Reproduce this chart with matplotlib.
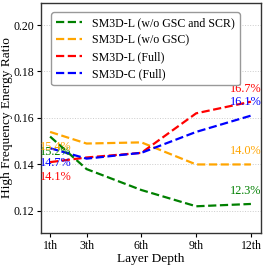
import matplotlib
matplotlib.use('Agg')
import matplotlib.pyplot as plt

# ------------------------------------------------------------
# Data
# ------------------------------------------------------------
layers = [1, 3, 6, 9, 12]
tick_labels = ['1th', '3th', '6th', '9th', '12th']

names = ['SM3D-L (w/o GSC and SCR)', 'SM3D-L (w/o GSC)', 'SM3D-L (Full)', 'SM3D-C (Full)']
colors = ['green', 'orange', 'red', 'blue']

green_vals = [0.152, 0.138, 0.129, 0.122, 0.123]
orange_vals = [0.154, 0.149, 0.1495, 0.140, 0.140]
red_vals = [0.141, 0.143, 0.145, 0.162, 0.167]
blue_vals = [0.147, 0.1425, 0.145, 0.154, 0.161]
series = [green_vals, orange_vals, red_vals, blue_vals]

start_labels = ['15.2%', '15.4%', '14.1%', '14.7%']
end_labels = ['12.3%', '14.0%', '16.7%', '16.1%']

# ------------------------------------------------------------
# Plot
# ------------------------------------------------------------
plt.rcParams['font.family'] = ['Liberation Serif', 'DejaVu Serif']

fig = plt.figure(figsize=(2.66, 2.66), dpi=100)
ax = fig.add_axes([0.154, 0.124, 0.827, 0.865])

for vals, name, c in zip(series, names, colors):
    ax.plot(layers, vals, linestyle='--', color=c, linewidth=1.6, label=name)

for vals, lab, c in zip(series, start_labels, colors):
    ax.annotate(lab, (layers[0], vals[0]), xytext=(-7, -11), textcoords='offset points',
                ha='left', va='center', color=c, fontsize=8.8, annotation_clip=False)

for vals, lab, c in zip(series, end_labels, colors):
    ax.annotate(lab, (layers[-1], vals[-1]), xytext=(-15, 9.5), textcoords='offset points',
                ha='left', va='center', color=c, fontsize=8.8, annotation_clip=False)

ax.set_xlim(0.5, 12.55)
ax.set_ylim(0.1105, 0.2095)
ax.set_xticks(layers)
ax.set_xticklabels(tick_labels)
ax.set_yticks([0.12, 0.14, 0.16, 0.18, 0.20])
ax.tick_params(labelsize=8.5, length=3, pad=2)
ax.set_xlabel('Layer Depth', fontsize=9.6, labelpad=1)
ax.set_ylabel('High Frequency Energy Ratio', fontsize=9.6, labelpad=0)
ax.grid(axis='y', linestyle=':', color='#cccccc', linewidth=0.7)

for s in ax.spines.values():
    s.set_color('#333333')
    s.set_linewidth(1.0)

ax.legend(loc='upper left', fontsize=8.6, handlelength=2.2, borderpad=0.4,
          labelspacing=0.42, bbox_to_anchor=(0.02, 0.985), framealpha=1,
          edgecolor='#999999')

fig.savefig('out.png', dpi=100)
